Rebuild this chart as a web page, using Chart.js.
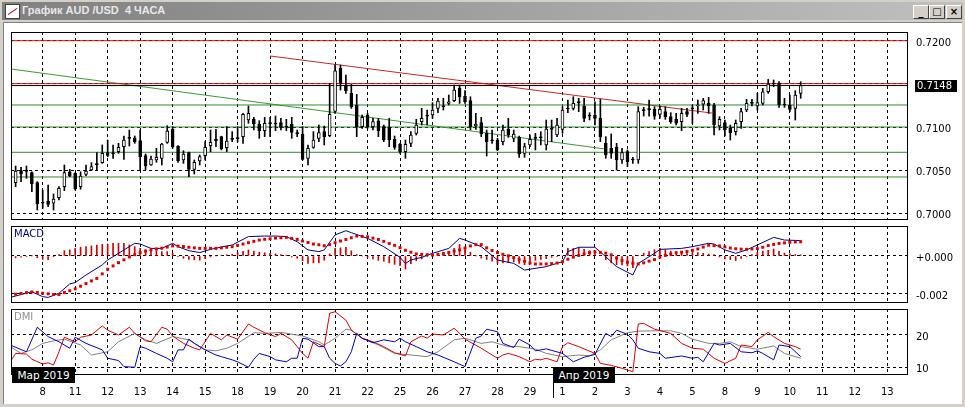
<!DOCTYPE html>
<html><head><meta charset="utf-8">
<script src="https://cdn.jsdelivr.net/npm/chart.js@4.4.1/dist/chart.umd.min.js"></script>
<style>
html,body{margin:0;padding:0;width:965px;height:407px;overflow:hidden;background:#d4d0c8;font-family:"DejaVu Sans",sans-serif;}
#title{position:absolute;left:2px;top:2px;width:961px;height:18px;background:linear-gradient(to right,#808080,#c0c0c0);}
#title span{position:absolute;left:20px;top:2px;color:#e8e8e8;font:bold 11px "Liberation Sans",sans-serif;white-space:pre;}
#icon{position:absolute;left:3px;top:2px;width:13px;height:13px;background:#fff;border:1px solid #404040;}
#icon:after{content:"";position:absolute;left:1px;top:6px;width:11px;height:1px;background:#c00;transform:rotate(-35deg);}
.b{position:absolute;top:5px;width:14px;height:12px;background:#d4d0c8;border:1px solid;border-color:#fff #404040 #404040 #fff;font:bold 10px "DejaVu Sans";text-align:center;line-height:12px;color:#000;}
#client{position:absolute;left:3px;top:22px;width:958px;height:381px;background:#fff;border-top:1px solid #808080;border-left:1px solid #808080;}
canvas{position:absolute;left:0;}
.month{position:absolute;height:16px;background:#000;color:#fff;font:10.5px "DejaVu Sans",sans-serif;line-height:16px;text-align:center;z-index:5;}
</style></head>
<body>
<div id="title"><div id="icon"></div><span>График AUD /USD  4 ЧАСА</span></div>
<div class="b" style="left:913px">_</div><div class="b" style="left:929px">□</div><div class="b" style="left:946px">×</div>
<div id="client"></div>
<canvas id="cA" width="965" height="200" style="top:26px"></canvas>
<canvas id="cB" width="965" height="89" style="top:220px"></canvas>
<canvas id="cC" width="965" height="101" style="top:303px"></canvas>
<div class="month" style="left:12px;top:367px;width:63px">Мар 2019</div>
<div class="month" style="left:553px;top:367px;width:62px">Апр 2019</div>
<div style="position:absolute;left:553px;top:367px;width:1px;height:31px;background:#000;z-index:6"></div>
<script>
// ---- data ----
const barStart = -6;            // index of first bar (Mar 7 00:00); index 0 = Mar 8 00:00
const barsPerDay = 6;           // H4 bars
const dayLabels = ['8','11','12','13','14','15','18','19','20','21','22','25','26','27','28','29','1','2','3','4','5','8','9','10','11','12','13'];
const monthLabels = ['Мар 2019','Апр 2019'];

const open = [null,
.70355,.70494,.70494,.70471,.70355,
.70123,.70143,.70116,.70181,.70309,.70482,
.70463,.70309,.70452,.70502,.70568,.70587,
.70703,.70695,.70714,.70772,.70869,.70876,
.70842,.70668,.70560,.70618,.70637,.70822,
.70973,.70780,.70618,.70703,.70509,.70606,
.70668,.70784,.70861,.70888,.70760,.70857,
.70865,.70888,.71081,.71093,.71035,.70958,
.71043,.71035,.71050,.71004,.71031,.70927,
.70915,.70637,.70764,.70869,.70946,.70899,
.71180,.71680,.71486,.71390,.71255,.71004,
.71139,.71004,.71073,.71004,.70996,.70857,
.70803,.70714,.70811,.70927,.71062,.71127,
.71139,.71216,.71236,.71274,.71305,.71448,
.71359,.71305,.71012,.71050,.70927,.70850,
.70849,.70830,.70973,.70869,.70880,.70695,
.70792,.70869,.70875,.70792,.70973,.70907,
.70973,.71209,.71216,.71282,.71243,.71127,
.71139,.71100,.70811,.70753,.70764,.70618,
.70714,.70618,.70618,.71189,.71205,.71205,
.71147,.71178,.71120,.71089,.71062,.71178,
.71216,.71243,.71266,.71274,.71255,.71012,
.71050,.70985,.70946,.71062,.71197,.71274,
.71243,.71274,.71409,.71498,.71506,.71255,
.71255,.71216,.71390];
const high = [null,
.70548,.70533,.70548,.70482,.70367,
.70270,.70328,.70224,.70309,.70560,.70509,
.70471,.70482,.70560,.70587,.70703,.70792,
.70849,.70792,.70811,.70896,.70965,.70896,
.70965,.70687,.70664,.70753,.70811,.71015,
.71004,.70785,.70726,.70708,.70618,.70676,
.70830,.70965,.70973,.70893,.71004,.70946,
.71004,.71158,.71243,.71112,.71073,.71112,
.71112,.71127,.71100,.71089,.71112,.70965,
.71004,.70792,.70946,.71023,.71012,.71500,
.71720,.71718,.71602,.71494,.71378,.71139,
.71158,.71100,.71100,.71023,.71100,.70896,
.70811,.70849,.70946,.71089,.71216,.71197,
.71282,.71332,.71332,.71371,.71487,.71487,
.71421,.71351,.71158,.71112,.70965,.70965,
.70869,.71023,.71100,.70965,.70896,.70811,
.70907,.70927,.70946,.71081,.71081,.71100,
.71236,.71313,.71351,.71332,.71332,.71166,
.71293,.71321,.70888,.70919,.70811,.70753,
.70734,.70649,.71236,.71228,.71313,.71236,
.71243,.71236,.71166,.71158,.71216,.71216,
.71255,.71313,.71332,.71344,.71274,.71120,
.71081,.71023,.71081,.71216,.71321,.71321,
.71390,.71448,.71552,.71545,.71525,.71332,
.71371,.71421,.71525];
const low = [null,
.70309,.70366,.70405,.70251,.70038,
.70058,.70077,.70038,.70154,.70262,.70424,
.70270,.70278,.70436,.70495,.70502,.70579,
.70656,.70637,.70695,.70625,.70780,.70811,
.70502,.70502,.70555,.70591,.70560,.70811,
.70753,.70591,.70579,.70424,.70455,.70560,
.70618,.70714,.70772,.70734,.70714,.70830,
.70830,.70811,.71043,.70965,.70869,.70888,
.70888,.70958,.70965,.70958,.70869,.70888,
.70618,.70560,.70753,.70830,.70792,.70888,
.71158,.71428,.71390,.71216,.70888,.70985,
.70985,.70965,.70888,.70830,.70772,.70741,
.70695,.70637,.70772,.70907,.71023,.71023,
.71100,.71166,.71197,.71255,.71293,.71274,
.71274,.70965,.70973,.70888,.70664,.70811,
.70726,.70792,.70880,.70830,.70649,.70649,
.70772,.70734,.70792,.70734,.70830,.70888,
.70927,.71166,.71197,.71178,.71062,.71081,
.71023,.70830,.70637,.70637,.70502,.70579,
.70540,.70579,.70579,.71127,.71127,.71089,
.71101,.71089,.71043,.71023,.70958,.71120,
.71043,.71158,.71197,.71158,.70907,.70965,
.70896,.70849,.70907,.70985,.71178,.71243,
.71197,.71255,.71390,.71467,.71228,.71228,
.71178,.71081,.71332];
const close = [null,
.70490,.70455,.70486,.70340,.70108,
.70116,.70104,.70166,.70289,.70471,.70432,
.70282,.70432,.70490,.70540,.70564,.70695,
.70672,.70690,.70764,.70849,.70872,.70830,
.70656,.70548,.70629,.70649,.70803,.70954,
.70772,.70610,.70687,.70509,.70591,.70656,
.70764,.70822,.70838,.70745,.70838,.70861,
.70872,.71147,.71158,.71035,.70958,.71043,
.71040,.71039,.70996,.71000,.70938,.70923,
.70625,.70753,.70849,.70935,.70888,.71146,
.71650,.71506,.71417,.71235,.71004,.71112,
.71004,.71062,.70958,.70849,.70849,.70764,
.70714,.70799,.70907,.71023,.71100,.71130,
.71197,.71301,.71240,.71293,.71429,.71351,
.71293,.71004,.71035,.70919,.70830,.70838,
.70734,.70965,.70907,.70919,.70687,.70772,
.70857,.70872,.70880,.70977,.70977,.71023,
.71197,.71213,.71274,.71286,.71100,.71130,
.71100,.70888,.70676,.70695,.70618,.70703,
.70598,.70622,.71178,.71193,.71201,.71127,
.71205,.71120,.71062,.71043,.71158,.71147,
.71210,.71255,.71305,.71243,.71023,.71089,
.70965,.70934,.71043,.71178,.71274,.71278,
.71282,.71409,.71498,.71502,.71255,.71259,
.71205,.71371,.71480];

const bidPrice = 0.7148;
const priceTicks = [0.7000, 0.7050, 0.7100, 0.7150, 0.7200];
const greenLevels = [0.71255, 0.7100, 0.70707, 0.70421];
const redLevels = [0.7200, 0.71502];
const greenTrend = [[-5.86, 0.71672], [104.25, 0.70742]];
const redTrend = [[42.0, 0.71823], [123.65, 0.71161]];

const macdTicks = [0, -0.002];
const macdMain = [[-6,-0.00218],[-2,-0.00188],[0,-0.00214],[1,-0.00218],[3,-0.00196],[5,-0.00147],[6,-0.00140],[8,-0.00100],[11,-0.00047],[12,-0.00021],[14,0.00014],[17,0.00067],[18,0.00063],[20,0.00040],[22,0.00040],[24,0.00067],[25,0.00049],[27,0.00028],[29,0.00018],[31,0.00035],[34,0.00053],[35,0.00058],[38,0.00102],[41,0.00105],[43,0.00105],[45,0.00102],[47,0.00075],[49,0.00032],[51,0.00023],[52,0.00032],[54,0.00111],[56,0.00133],[57,0.00123],[60,0.00093],[63,0.00049],[66,-0.00007],[67,-0.00039],[68,-0.00021],[70,-0.00007],[72,0.00014],[75,0.00040],[77,0.00093],[78,0.00084],[81,0.00049],[84,-0.00021],[87,-0.00039],[89,-0.00074],[93,-0.00056],[96,-0.00030],[97,0.00023],[99,0.00046],[102,0.00046],[104,-0.00004],[106,-0.00056],[109,-0.00100],[110,-0.00039],[113,0.00014],[114,0.00035],[118,0.00040],[120,0.00049],[123,0.00067],[124,0.00063],[126,0.00032],[128,0.00014],[130,0.00032],[132,0.00058],[135,0.00098],[137,0.00084],[140,0.00081]];
const macdSignal = [-0.00205,-0.00201,-0.00197,-0.00193,-0.00189,-0.00192,-0.00196,-0.00199,-0.00203,-0.00203,-0.00192,-0.00183,-0.00173,-0.00159,-0.00145,-0.00131,-0.00118,-0.00094,-0.00070,-0.00052,-0.00035,-0.00020,-0.00005,0.00007,0.00018,0.00026,0.00033,0.00037,0.00041,0.00047,0.00053,0.00052,0.00050,0.00046,0.00043,0.00040,0.00040,0.00040,0.00040,0.00043,0.00046,0.00049,0.00056,0.00063,0.00070,0.00077,0.00084,0.00088,0.00091,0.00094,0.00096,0.00098,0.00093,0.00087,0.00079,0.00071,0.00063,0.00059,0.00054,0.00060,0.00070,0.00079,0.00087,0.00096,0.00105,0.00103,0.00101,0.00094,0.00087,0.00077,0.00066,0.00056,0.00044,0.00030,0.00020,0.00011,0.00009,0.00007,0.00005,0.00008,0.00012,0.00019,0.00026,0.00032,0.00042,0.00053,0.00060,0.00060,0.00043,0.00029,0.00018,0.00009,0.00001,-0.00008,-0.00018,-0.00028,-0.00037,-0.00042,-0.00042,-0.00042,-0.00040,-0.00037,-0.00030,-0.00017,-0.00006,0.00003,0.00011,0.00018,0.00022,0.00019,0.00015,0.00006,-0.00010,-0.00024,-0.00033,-0.00038,-0.00042,-0.00036,-0.00027,-0.00019,-0.00006,0.00003,0.00011,0.00017,0.00020,0.00024,0.00030,0.00037,0.00047,0.00057,0.00055,0.00053,0.00048,0.00042,0.00038,0.00036,0.00035,0.00037,0.00039,0.00046,0.00055,0.00061,0.00066,0.00069,0.00072,0.00074,0.00075];
const macdHist = [-0.00013,-0.00010,-0.00006,-0.00003,0.00001,-0.00009,-0.00018,-0.00019,-0.00004,0.00007,
0.00028,0.00032,0.00040,0.00046,0.00049,0.00053,0.00058,0.00061,0.00063,0.00067,
0.00067,0.00067,0.00058,0.00049,0.00040,0.00032,0.00035,0.00028,0.00023,0.00023,
0.00014,-0.00003,-0.00012,-0.00018,-0.00020,-0.00022,-0.00014,-0.00005,0.00001,0.00004,
0.00007,0.00009,0.00017,0.00024,0.00032,0.00026,0.00020,0.00017,0.00014,0.00011,
0.00007,0.00004,-0.00005,-0.00012,-0.00026,-0.00039,-0.00036,-0.00036,-0.00022,0.00011,
0.00041,0.00043,0.00046,0.00027,0.00008,0.00000,-0.00008,-0.00016,-0.00023,-0.00028,
-0.00036,-0.00044,-0.00051,-0.00069,-0.00041,-0.00025,-0.00016,-0.00004,0.00009,0.00015,
0.00019,0.00021,0.00040,0.00061,0.00042,0.00020,0.00001,-0.00011,-0.00018,-0.00027,
-0.00039,-0.00036,-0.00034,-0.00031,-0.00039,-0.00046,-0.00032,-0.00023,-0.00018,-0.00014,
-0.00007,-0.00002,0.00000,0.00040,0.00040,0.00043,0.00035,0.00028,0.00024,0.00002,
-0.00019,-0.00036,-0.00046,-0.00047,-0.00052,-0.00062,0.00003,0.00015,0.00023,0.00033,
0.00041,0.00033,0.00026,0.00022,0.00020,0.00021,0.00019,0.00018,0.00014,0.00010,
0.00008,-0.00005,-0.00016,-0.00019,-0.00024,-0.00013,-0.00003,0.00008,0.00019,0.00025,
0.00030,0.00037,0.00025,0.00015,0.00011,0.00008,0.00006];

const dmiTicks = [10, 20];
const dmiBlue = [[-6,16.9],[-3,14.8],[-1,22.4],[1,19.5],[3,17.9],[5,15.9],[6,19.3],[8,17.4],[11,15.4],[12,12.8],[14,12.1],[15,10.2],[17,10.0],[18,16.4],[19,15.9],[21,14.3],[23,12.8],[24,11.7],[25,15.4],[26,15.4],[27,18.7],[28,17.4],[30,15.4],[32,13.8],[33,13.3],[35,12.3],[36,11.7],[38,10.0],[39,12.5],[40,14.3],[42,13.3],[43,12.3],[45,11.7],[46,12.8],[47,12.8],[48,19.0],[49,18.7],[51,16.4],[52,16.4],[53,12.8],[54,11.2],[55,10.4],[56,11.7],[57,14.8],[58,20.5],[59,19.0],[61,17.6],[63,18.5],[65,17.9],[66,19.0],[67,17.9],[69,16.4],[71,14.8],[73,13.8],[76,11.7],[78,10.2],[80,19.0],[81,19.7],[82,21.8],[84,21.0],[85,17.4],[87,16.1],[88,18.7],[90,16.9],[91,15.1],[93,15.7],[96,14.3],[98,11.7],[100,13.1],[102,14.0],[104,20.5],[105,19.5],[106,21.5],[108,20.2],[109,18.5],[110,15.9],[112,14.8],[114,14.3],[115,12.8],[118,13.5],[120,12.8],[121,13.1],[122,11.7],[124,17.4],[125,16.9],[127,17.4],[129,14.8],[131,14.5],[132,15.1],[133,14.3],[135,12.3],[136,16.9],[138,16.4],[140,13.3]];
const dmiRed = [[-6,11.7],[-5,14.3],[-3,14.1],[-2,12.5],[0,11.0],[1,11.4],[2,10.7],[3,14.8],[4,19.3],[6,17.9],[7,19.3],[9,20.0],[11,22.8],[12,21.5],[14,20.0],[16,22.4],[17,20.5],[19,18.2],[20,17.9],[22,22.4],[23,21.8],[24,19.7],[26,17.4],[28,15.9],[29,15.4],[31,20.5],[33,18.5],[34,20.0],[36,18.7],[38,23.4],[39,22.4],[41,20.7],[43,19.5],[44,20.5],[46,18.5],[48,14.3],[49,12.8],[50,17.9],[52,16.4],[53,26.7],[54,27.2],[56,24.6],[57,21.5],[59,19.0],[61,17.9],[63,16.4],[65,14.5],[67,13.5],[68,17.9],[70,19.7],[71,19.0],[72,20.3],[74,20.0],[76,22.1],[77,20.5],[78,18.7],[81,15.9],[83,13.8],[84,12.8],[85,13.8],[86,14.3],[88,13.3],[89,12.5],[90,11.7],[91,12.5],[92,12.3],[93,12.8],[95,11.7],[96,16.4],[97,17.6],[99,16.4],[102,14.3],[103,11.2],[105,10.6],[107,9.7],[109,8.6],[110,23.4],[111,23.6],[113,21.8],[116,20.5],[118,17.4],[120,15.9],[122,15.6],[124,12.8],[126,11.2],[128,12.8],[129,16.9],[131,16.4],[132,18.5],[134,20.8],[135,19.5],[137,17.4],[139,16.4],[140,15.6]];
const dmiGray = [[-6,16.4],[-4,14.3],[-2,15.4],[0,17.4],[2,18.2],[4,18.7],[7,16.9],[9,13.8],[12,14.8],[14,17.9],[17,20.5],[19,18.5],[21,17.4],[24,19.5],[27,18.5],[30,15.4],[32,15.1],[34,15.9],[36,17.4],[39,20.7],[41,20.5],[44,20.8],[48,19.7],[51,17.9],[52,16.9],[54,19.0],[56,21.8],[57,21.5],[59,19.0],[62,16.9],[65,14.3],[68,13.8],[71,13.3],[73,14.8],[76,18.5],[78,19.0],[81,17.4],[83,17.9],[86,16.4],[88,16.4],[91,15.6],[93,14.3],[96,13.3],[99,13.8],[101,13.5],[103,15.4],[105,18.5],[108,20.7],[110,21.2],[113,21.3],[116,21.3],[118,20.5],[120,18.7],[123,17.4],[125,17.4],[127,17.9],[129,16.4],[132,15.6],[135,16.6],[137,14.3],[140,12.8]];

// ---- view ----
const X_MIN = -5.855, X_MAX = 159.82;
const FONT = {family: '"DejaVu Sans", sans-serif', size: 10};
const pairs = a => a.map(p => ({x: p[0], y: p[1]}));
const perBar = a => a.map((v, k) => ({x: barStart + k, y: v}));
const hline = v => [{x: X_MIN - 1, y: v}, {x: X_MAX + 1, y: v}];

function xAxis(showLabels) {
  return {
    type: 'linear', min: X_MIN, max: X_MAX, offset: false,
    grid: {color: '#000', lineWidth: 1, drawTicks: false, offset: false},
    border: {display: false, dash: [3, 3]},
    ticks: {display: showLabels, autoSkip: false, maxRotation: 0, padding: 11, color: '#000', font: FONT,
      callback: (v, i) => dayLabels[i]},
    afterBuildTicks: a => { a.ticks = dayLabels.map((d, k) => ({value: k * barsPerDay})); },
    afterFit: a => { a.height = showLabels ? 29 : 0; }
  };
}
function yAxis(min, max, ticks, fmt) {
  return {
    position: 'right', min, max,
    grid: {color: '#000', lineWidth: 1, drawTicks: true, tickLength: 8, tickColor: 'rgba(0,0,0,0)'},
    border: {display: false, dash: [3, 3]},
    ticks: {padding: 0, labelOffset: 2.5, color: '#000', font: FONT, callback: fmt},
    afterBuildTicks: a => { a.ticks = ticks.map(v => ({value: v})); },
    afterFit: a => { a.width = 57; }
  };
}
const framePlugin = {
  id: 'frame',
  afterDatasetsDraw(chart, args, opts) {
    const {ctx, chartArea: a} = chart;
    ctx.save();
    ctx.strokeStyle = '#000'; ctx.lineWidth = 1;
    ctx.strokeRect(Math.round(a.left) + 0.5, Math.round(a.top) + 0.5, Math.round(a.right - a.left) - 1, Math.round(a.bottom - a.top) - 1);
    if (opts.label) {
      ctx.font = '10px "DejaVu Sans", sans-serif'; ctx.fillStyle = opts.labelColor; ctx.textBaseline = 'top';
      ctx.fillText(opts.label, a.left + 3, a.top + 3);
    }
    if (opts.bid != null) {
      const y = Math.round(chart.scales.y.getPixelForValue(opts.bid));
      ctx.fillStyle = '#000';
      ctx.fillRect(a.right + 7, y - 6, 42, 12);
      ctx.fillStyle = '#fff'; ctx.textBaseline = 'middle';
      ctx.font = '10px "DejaVu Sans", sans-serif';
      ctx.fillText(opts.bid.toFixed(4), a.right + 9, y + 0.5);
    }
    ctx.restore();
  }
};
const base = (padding) => ({
  responsive: false, animation: false, devicePixelRatio: 1,
  layout: {padding},
  elements: {point: {radius: 0}, line: {tension: 0}}
});

// ---- main price chart ----
const lineDs = (data, color, width) => ({type: 'line', data, borderColor: color, borderWidth: width || 1, pointRadius: 0, fill: false});
const idx = open.map((o, k) => k).filter(k => open[k] != null);
const mainDatasets = [
  {type: 'bar', data: idx.map(k => ({x: barStart + k, y: [open[k], close[k]]})),
   backgroundColor: idx.map(k => close[k] - open[k] > 0.00008 ? '#ffffff' : '#000000'),
   borderColor: '#000', borderWidth: 1, borderSkipped: false,
   barThickness: 3, minBarLength: 1, grouped: false},
  {type: 'bar', data: idx.map(k => ({x: barStart + k, y: [low[k], high[k]]})),
   backgroundColor: '#000', borderWidth: 0, barThickness: 1, grouped: false},
  lineDs(hline(bidPrice), '#000'),
  ...redLevels.map(v => lineDs(hline(v), '#d01010')),
  ...greenLevels.map(v => lineDs(hline(v), '#2a8c2a')),
  lineDs(pairs(greenTrend), '#3c9a3c'),
  lineDs(pairs(redTrend), '#c82828')
];
new Chart(document.getElementById('cA'), {
  type: 'bar',
  data: {datasets: mainDatasets},
  options: Object.assign(base({left: 11, right: 0, top: 6, bottom: 6}), {
    scales: {x: xAxis(false), y: yAxis(0.699224, 0.721009, priceTicks, v => Math.abs(v - 0.715) < 1e-6 ? '' : v.toFixed(4))},
    plugins: {legend: {display: false}, tooltip: {enabled: false}, frame: {bid: bidPrice}}
  }),
  plugins: [framePlugin]
});

// ---- MACD ----
new Chart(document.getElementById('cB'), {
  type: 'bar',
  data: {datasets: [
    {type: 'line', data: perBar(macdSignal), showLine: false, pointRadius: 2.1, pointStyle: 'rect',
     pointBackgroundColor: '#e00000', pointBorderWidth: 0, borderColor: '#e00000'},
    lineDs(pairs(macdMain), '#000080'),
    {type: 'bar', data: perBar(macdHist), backgroundColor: '#d00000', barThickness: 1, grouped: false, borderWidth: 0}
  ]},
  options: Object.assign(base({left: 11, right: 0, top: 6, bottom: 6}), {
    scales: {x: xAxis(false), y: yAxis(-0.0024737, 0.0015789, macdTicks, v => (v >= 0 ? '+' : '') + v.toFixed(3))},
    plugins: {legend: {display: false}, tooltip: {enabled: false}, frame: {label: 'MACD', labelColor: '#000080'}}
  }),
  plugins: [framePlugin]
});

// ---- DMI ----
new Chart(document.getElementById('cC'), {
  type: 'line',
  data: {datasets: [
    lineDs(pairs(dmiBlue), '#0000c8'),
    lineDs(pairs(dmiRed), '#e00000'),
    lineDs(pairs(dmiGray), '#808080')
  ]},
  options: Object.assign(base({left: 11, right: 0, top: 6, bottom: 0}), {
    scales: {x: xAxis(true), y: yAxis(7.61, 28.05, dmiTicks, v => String(v))},
    plugins: {legend: {display: false}, tooltip: {enabled: false}, frame: {label: 'DMI', labelColor: '#909090'}}
  }),
  plugins: [framePlugin]
});
</script>
</body></html>
